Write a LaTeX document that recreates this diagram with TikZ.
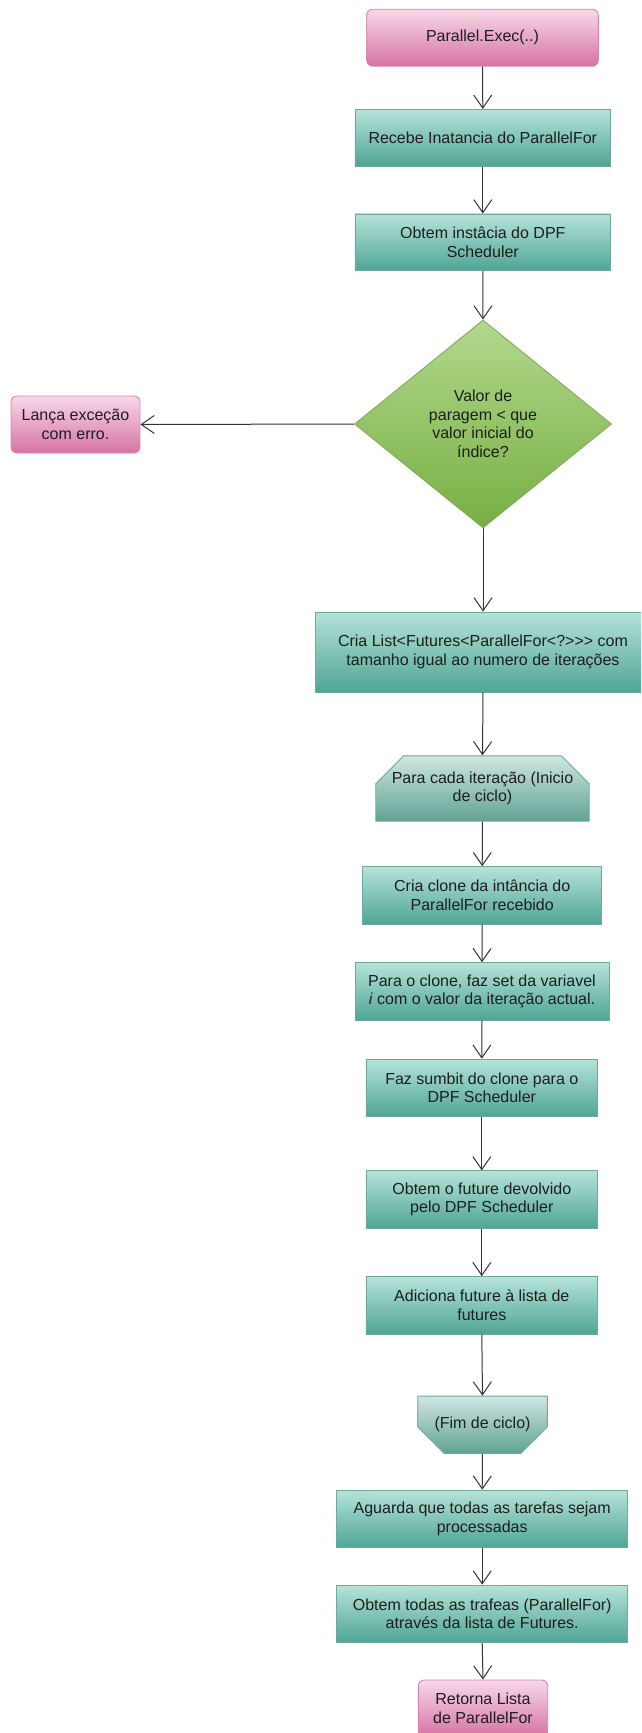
\documentclass[tikz,border=0pt]{standalone}
\usepackage{fontspec}
\setmainfont{Liberation Sans}
\usetikzlibrary{arrows.meta,shapes.geometric,shapes.misc}
\definecolor{tealtop}{HTML}{B5E3D9}
\definecolor{tealbot}{HTML}{4FA595}
\definecolor{tealline}{HTML}{6FA89C}
\definecolor{looptop}{HTML}{CFE6E1}
\definecolor{loopbot}{HTML}{5FA393}
\definecolor{pinktop}{HTML}{F7D8E8}
\definecolor{pinkbot}{HTML}{D673A4}
\definecolor{pinkline}{HTML}{D586B0}
\definecolor{greentop}{HTML}{B3D88D}
\definecolor{greenbot}{HTML}{76AF42}
\definecolor{greenline}{HTML}{7FAE55}
\definecolor{arrowc}{HTML}{333333}
\definecolor{txt}{HTML}{1E1E1E}
\tikzset{
  base/.style={inner sep=2pt, align=center, text=txt, font=\fontsize{16}{18.5}\selectfont},
  procbox/.style={base, rectangle, draw=tealline, line width=0.9pt, top color=tealtop, bottom color=tealbot, minimum height=57.3pt},
  termbox/.style={base, rectangle, rounded corners=6pt, draw=pinkline, line width=0.9pt, top color=pinktop, bottom color=pinkbot, minimum height=57pt},
  loopstart/.style={base, chamfered rectangle, chamfered rectangle corners={north west,north east}, chamfered rectangle xsep=14pt, chamfered rectangle ysep=14pt, draw=tealline, line width=0.9pt, top color=looptop, bottom color=loopbot},
  loopend/.style={base, chamfered rectangle, chamfered rectangle corners={south west,south east}, chamfered rectangle xsep=17pt, chamfered rectangle ysep=17pt, draw=tealline, line width=0.9pt, top color=looptop, bottom color=loopbot},
  decision/.style={base, diamond, draw=greenline, line width=0.9pt, top color=greentop, bottom color=greenbot, inner sep=0pt},
  flow/.style={draw=arrowc, line width=1pt, -{Straight Barb[length=13pt,width=18pt,line width=1pt]}}
}
\begin{document}
\begin{tikzpicture}[x=1pt,y=-1pt]
\useasboundingbox (0,0) rectangle (641,1733);
\fill[white] (0,0) rectangle (641,1733);
\clip (0,0) rectangle (641,1733);

\node[termbox, minimum width=231.6pt] (exec) at (482.5,37.7) {Parallel.Exec(..)};
\node[procbox, minimum width=255.7pt, minimum height=56.7pt] (recebe) at (482.8,137.7) {Recebe Inatancia do ParallelFor};
\node[procbox, minimum width=255.7pt, minimum height=56.7pt] (obtem) at (482.8,242.3) {Obtem instâcia do DPF\\Scheduler};
\node[decision, minimum width=257pt, minimum height=208pt] (cond) at (483,424) {Valor de\\paragem < que\\valor inicial do\\índice?};
\node[termbox, minimum width=129pt, minimum height=57pt] (lanca) at (75.5,424.5) {Lança exceção\\com erro.};
\node[procbox, minimum width=336pt, minimum height=80pt] (cria) at (483,652) {Cria List<{}Futures<{}ParallelFor<{}?>{}>{}> com\\tamanho igual ao numero de iterações};
\node[loopstart, minimum width=211pt, minimum height=59pt] (para) at (482.5,788.5) {Para cada iteração (Inicio\\de ciclo)};
\node[procbox, minimum width=239pt] (clone) at (482.2,895.3) {Cria clone da intância do\\ParallelFor recebido};
\node[procbox, minimum width=254pt] (setv) at (482,991.3) {Para o clone, faz set da variavel\\\textit{i} com o valor da iteração actual.};
\node[procbox, minimum width=231.7pt] (sumbit) at (481.8,1087.8) {Faz sumbit do clone para o\\DPF Scheduler};
\node[procbox, minimum width=231.7pt] (future) at (481.8,1199.5) {Obtem o future devolvido\\pelo DPF Scheduler};
\node[procbox, minimum width=231.7pt] (adiciona) at (481.8,1305.3) {Adiciona future à lista de\\futures};
\node[loopend, minimum width=129.6pt, minimum height=57.3pt] (fim) at (482.5,1424.7) {(Fim de ciclo)};
\node[procbox, minimum width=291pt] (aguarda) at (482.2,1518.8) {Aguarda que todas as tarefas sejam\\processadas};
\node[procbox, minimum width=291pt] (todas) at (482.2,1613.7) {Obtem todas as trafeas (ParallelFor)\\através da lista de Futures.};
\node[termbox, minimum width=129.4pt, minimum height=57pt] (retorna) at (483,1708.5) {Retorna Lista\\de ParallelFor};

\draw[flow] (exec.south) -- (recebe.north);
\draw[flow] (recebe.south) -- (obtem.north);
\draw[flow] (obtem.south) -- (cond.north);
\draw[flow] (cond.west) -- (lanca.east);
\draw[flow] (cond.south) -- (cria.north);
\draw[flow] (cria.south) -- (para.north);
\draw[flow] (para.south) -- (clone.north);
\draw[flow] (clone.south) -- (setv.north);
\draw[flow] (setv.south) -- (sumbit.north);
\draw[flow] (sumbit.south) -- (future.north);
\draw[flow] (future.south) -- (adiciona.north);
\draw[flow] (adiciona.south) -- (fim.north);
\draw[flow] (fim.south) -- (aguarda.north);
\draw[flow] (aguarda.south) -- (todas.north);
\draw[flow] (todas.south) -- (retorna.north);
\end{tikzpicture}
\end{document}
